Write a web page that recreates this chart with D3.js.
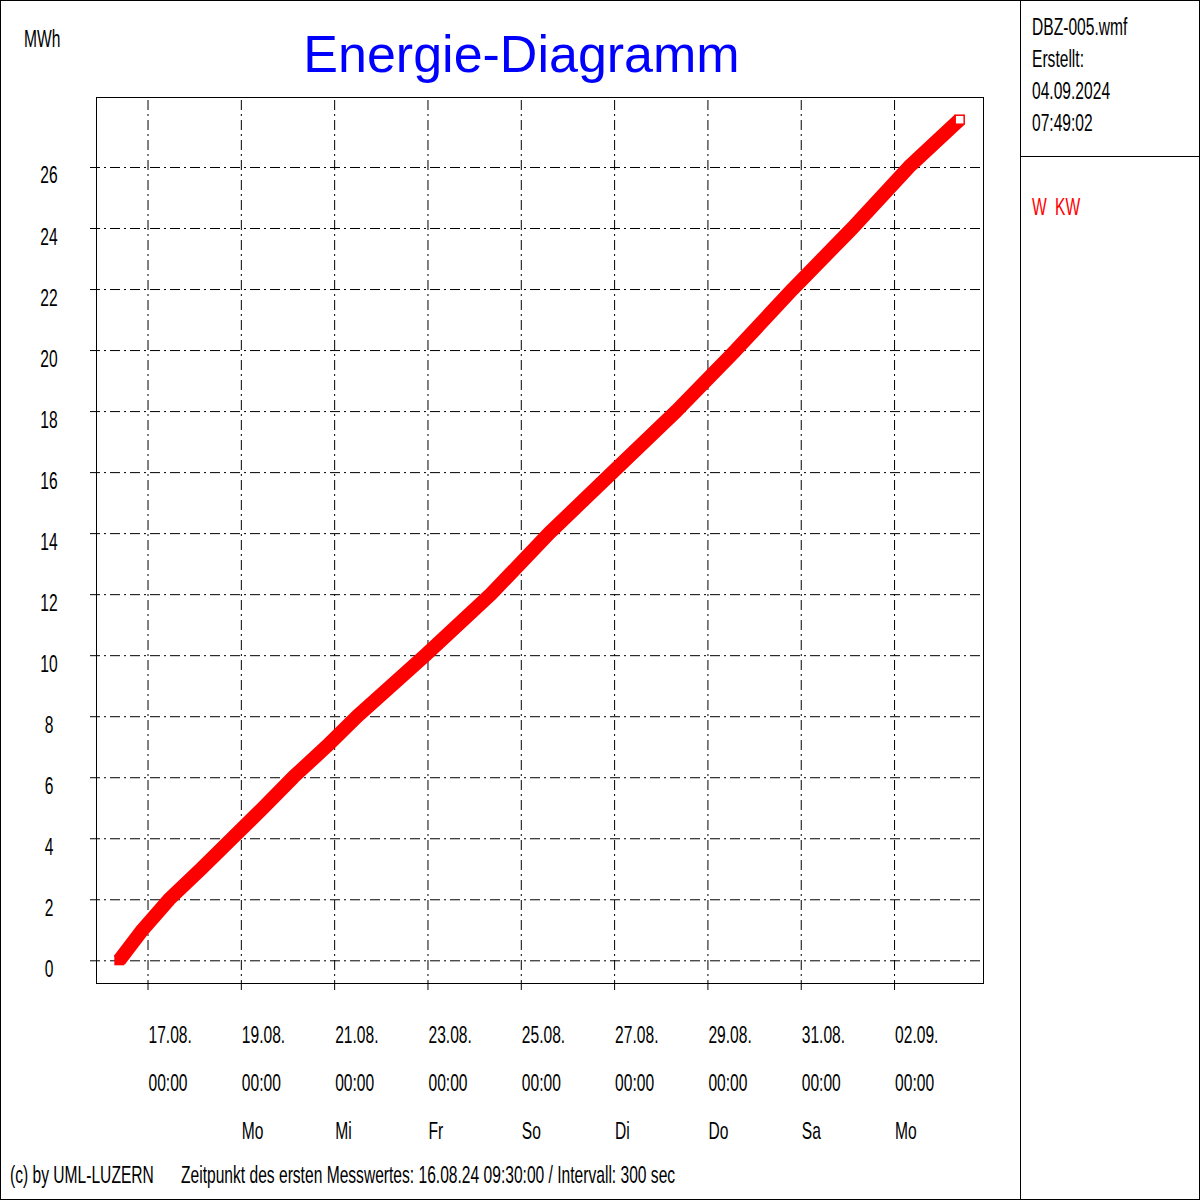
<!DOCTYPE html>
<html>
<head>
<meta charset="utf-8">
<script src="https://cdn.jsdelivr.net/npm/d3@7"></script>
<style>
  html, body { margin: 0; padding: 0; background: #fff; }
  svg { display: block; }
  text { font-family: "Liberation Sans", Arial, sans-serif; }
</style>
</head>
<body>
<script>
// ---------- DATA ----------
const times = [
  "16.08.2024 09:30", "16.08.2024 21:26", "17.08.2024 11:10", "18.08.2024 03:38",
  "18.08.2024 19:34", "19.08.2024 11:31", "20.08.2024 02:58", "20.08.2024 19:56",
  "21.08.2024 11:53", "22.08.2024 05:23", "22.08.2024 22:52", "24.08.2024 08:38",
  "25.08.2024 14:38", "26.08.2024 23:17", "28.08.2024 08:00", "29.08.2024 14:38",
  "30.08.2024 19:55", "01.09.2024 02:38", "02.09.2024 07:40", "03.09.2024 09:45"
];
const energyMWh = [0, 1, 2, 3, 4, 5, 6, 7, 8, 9, 10, 12, 14, 16, 18, 20, 22, 24, 26, 27.55];

const yTicks = [0, 2, 4, 6, 8, 10, 12, 14, 16, 18, 20, 22, 24, 26];
const xTickDates = ["17.08.2024", "19.08.2024", "21.08.2024", "23.08.2024", "25.08.2024",
                    "27.08.2024", "29.08.2024", "31.08.2024", "02.09.2024"];
const xTickDateLabels = ["17.08.", "19.08.", "21.08.", "23.08.", "25.08.", "27.08.", "29.08.", "31.08.", "02.09."];
const xTickTimeLabels = ["00:00", "00:00", "00:00", "00:00", "00:00", "00:00", "00:00", "00:00", "00:00"];
const xTickWeekdays = ["", "Mo", "Mi", "Fr", "So", "Di", "Do", "Sa", "Mo"];

const titleText = "Energie-Diagramm";
const unitText = "MWh";
const infoLines = ["DBZ-005.wmf", "Erstellt:", "04.09.2024", "07:49:02"];
const legendItems = ["W", "KW"];
const footerLeft = "(c) by UML-LUZERN";
const footerRight = "Zeitpunkt des ersten Messwertes: 16.08.24 09:30:00 / Intervall: 300 sec";

// ---------- SETUP ----------
const W = 1200, H = 1200;
const plot = { left: 96, top: 97, right: 983, bottom: 983 };
const parseT = d3.utcParse("%d.%m.%Y %H:%M");
const parseD = d3.utcParse("%d.%m.%Y");
const data = times.map((t, i) => ({ t: parseT(t), v: energyMWh[i] }));

const svg = d3.select("body").append("svg").attr("width", W).attr("height", H);

const tExt = d3.extent(data, d => d.t);
const padT = 12 * 3600 * 1000;
const x = d3.scaleUtc()
  .domain([new Date(+tExt[0] - padT), new Date(+tExt[1] + padT)])
  .range([plot.left, plot.right]);

const vExt = d3.extent(data, d => d.v);
const padV = (vExt[1] - vExt[0]) * 0.027;
const y = d3.scaleLinear()
  .domain([vExt[0] - padV, vExt[1] + padV])
  .range([plot.bottom, plot.top]);

const SX = 0.65;
function txt(xp, yp, s, opt = {}) {
  return svg.append("text")
    .attr("transform", `translate(${xp},${yp}) scale(${opt.sx ?? SX},1)`)
    .attr("text-anchor", opt.anchor || "start")
    .attr("font-size", opt.size || 24)
    .attr("fill", opt.color || "#000")
    .text(s);
}

// outer frame and right panel
svg.append("rect").attr("x", 0.5).attr("y", 0.5).attr("width", W - 1).attr("height", H - 1)
  .attr("fill", "none").attr("stroke", "#000").attr("stroke-width", 1);
svg.append("line").attr("x1", 1020.5).attr("x2", 1020.5).attr("y1", 0).attr("y2", H)
  .attr("stroke", "#000").attr("stroke-width", 1);
svg.append("line").attr("x1", 1020).attr("x2", W).attr("y1", 156.5).attr("y2", 156.5)
  .attr("stroke", "#000").attr("stroke-width", 1);

// grid (dash-dot)
const dash = "10,4,2,4";
const gx = d3.axisBottom(x)
  .tickValues(xTickDates.map(parseD))
  .tickSize(-(plot.bottom - plot.top) - 7)
  .tickFormat("");
svg.append("g").attr("transform", `translate(0,${plot.bottom + 7})`).call(gx)
  .call(g => g.select(".domain").remove())
  .call(g => g.selectAll(".tick line").attr("stroke", "#000").attr("stroke-dasharray", dash));

const gy = d3.axisRight(y)
  .tickValues(yTicks)
  .tickSize(plot.right - plot.left + 6)
  .tickFormat("");
svg.append("g").attr("transform", `translate(${plot.left - 6},0)`).call(gy)
  .call(g => g.select(".domain").remove())
  .call(g => g.selectAll(".tick line").attr("stroke", "#000").attr("stroke-dasharray", dash));

// plot frame
svg.append("rect").attr("x", plot.left + 0.5).attr("y", plot.top + 0.5)
  .attr("width", plot.right - plot.left).attr("height", plot.bottom - plot.top)
  .attr("fill", "none").attr("stroke", "#000").attr("stroke-width", 1);

// y labels
yTicks.forEach(v => txt(49, y(v) + 16.5, String(v), { anchor: "middle" }));

// x labels
xTickDates.forEach((d, i) => {
  const xp = x(parseD(d)) + 1;
  txt(xp, 1043, xTickDateLabels[i]);
  txt(xp, 1091, xTickTimeLabels[i]);
  if (xTickWeekdays[i]) txt(xp, 1139, xTickWeekdays[i]);
});

// data line (thick square-pen look)
const line = d3.line().x(d => x(d.t)).y(d => y(d.v));
svg.append("path").datum(data).attr("d", line)
  .attr("fill", "none").attr("stroke", "#ff0000").attr("stroke-width", 14)
  .attr("stroke-linejoin", "round").attr("stroke-linecap", "butt");
// start / end markers
const first = data[0], last = data[data.length - 1];
svg.append("rect").attr("x", x(first.t) - 5).attr("y", y(first.v) - 5)
  .attr("width", 10).attr("height", 10).attr("fill", "#ff0000");
svg.append("rect").attr("x", x(last.t) - 4.5).attr("y", y(last.v) - 4.5)
  .attr("width", 9).attr("height", 9).attr("fill", "#fff")
  .attr("stroke", "#ff0000").attr("stroke-width", 1.5);

// title & unit
txt(521.5, 72, titleText, { size: 52, sx: 1.0, anchor: "middle", color: "#0000ff" });
txt(24, 47, unitText);

// info panel
infoLines.forEach((s, i) => txt(1032, 35 + i * 32, s));
txt(1032, 215, legendItems[0], { color: "#ff0000" });
txt(1055, 215, legendItems[1], { color: "#ff0000" });

// footer
txt(10, 1183, footerLeft);
txt(181, 1183, footerRight);
</script>
</body>
</html>
